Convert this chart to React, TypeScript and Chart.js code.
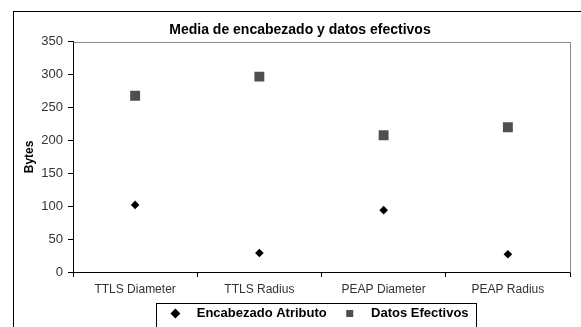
import React, { useEffect, useRef } from 'react';
import { Chart, registerables } from 'chart.js';

Chart.register(...registerables);

const chartTitle = 'Media de encabezado y datos efectivos';
const yAxisTitle = 'Bytes';
const categories = ['TTLS Diameter', 'TTLS Radius', 'PEAP Diameter', 'PEAP Radius'];
const seriesNames = ['Encabezado Atributo', 'Datos Efectivos'];
const encabezadoAtributo = [102, 29, 94, 27];
const datosEfectivos = [268, 297, 208, 220];
const yMin = 0;
const yMax = 350;
const yStep = 50;

const FONT = 'Liberation Sans, Arial, Helvetica, sans-serif';

const framePlugin = {
  id: 'framePlugin',
  afterLayout(chart: any) {
    const lg = chart.legend;
    if (lg) {
      lg.left += 24;
      lg.right += 24;
      lg.top -= 14;
      lg.bottom -= 14;
    }
    const tb = chart.titleBlock;
    if (tb) {
      tb.left += 4;
      tb.right += 4;
    }
  },
  afterDraw(chart: any) {
    const ctx = chart.ctx;
    const ca = chart.chartArea;
    ctx.save();
    // outer frame
    ctx.strokeStyle = '#000';
    ctx.lineWidth = 1;
    ctx.strokeRect(13.5, 11.5, 700, 500);
    // plot area top/right border
    ctx.strokeStyle = '#8a8a8a';
    ctx.beginPath();
    ctx.moveTo(Math.round(ca.left) + 0.5, Math.round(ca.top) + 0.5);
    ctx.lineTo(Math.round(ca.right) + 0.5, Math.round(ca.top) + 0.5);
    ctx.lineTo(Math.round(ca.right) + 0.5, Math.round(ca.bottom) + 0.5);
    ctx.stroke();
    // legend border
    const lg = chart.legend;
    if (lg && lg.legendHitBoxes && lg.legendHitBoxes.length) {
      const hb = lg.legendHitBoxes;
      const first = hb[0];
      const last = hb[hb.length - 1];
      const l = Math.round(first.left - 15) + 0.5;
      const r = Math.round(last.left + last.width + 7) + 0.5;
      const t = Math.round(first.top + first.height / 2 - 11) + 0.5;
      ctx.strokeStyle = '#000';
      ctx.strokeRect(l, t, r - l, 200);
    }
    ctx.restore();
  },
};

export default function App() {
  const ref = useRef<HTMLCanvasElement | null>(null);

  useEffect(() => {
    if (!ref.current) return;
    const chart = new Chart(ref.current, {
      type: 'line',
      data: {
        labels: categories,
        datasets: [
          {
            label: '   ' + seriesNames[0],
            data: encabezadoAtributo,
            showLine: false,
            pointStyle: 'rectRot',
            pointRadius: 4.3,
            pointBackgroundColor: '#000',
            pointBorderColor: '#000',
            borderColor: '#000',
            backgroundColor: '#000',
            pointBorderWidth: 0,
          },
          {
            label: '   ' + seriesNames[1],
            data: datosEfectivos,
            showLine: false,
            pointStyle: 'rect',
            pointRadius: 7,
            pointBackgroundColor: '#4b5054',
            pointBorderColor: '#4b5054',
            borderColor: '#4b5054',
            backgroundColor: '#4b5054',
            pointBorderWidth: 0,
          },
        ],
      },
      options: {
        animation: false,
        responsive: false,
        devicePixelRatio: 1,
        layout: { padding: { left: 22, right: 11, top: 19, bottom: 6 } },
        plugins: {
          title: {
            display: true,
            text: chartTitle,
            color: '#000',
            font: { family: FONT, size: 14, weight: 'bold' },
            padding: { top: 3, bottom: 3 },
          },
          legend: {
            display: true,
            position: 'bottom',
            labels: {
              usePointStyle: true,
              boxWidth: 8,
              boxHeight: 7,
              padding: 19,
              color: '#000',
              font: { family: FONT, size: 13, weight: 'bold' },
            },
          },
          tooltip: { enabled: false },
        },
        scales: {
          x: {
            type: 'category',
            offset: true,
            grid: { offset: true, drawOnChartArea: false, tickLength: 5, color: '#000' },
            border: { color: '#000' },
            ticks: { padding: 5, color: '#333', font: { family: FONT, size: 12 }, maxRotation: 0 },
            afterFit: (s: any) => {
              s.height = 30;
            },
          },
          y: {
            min: yMin,
            max: yMax,
            ticks: { stepSize: yStep, padding: 5, color: '#333', font: { family: FONT, size: 13 } },
            grid: { drawOnChartArea: false, tickLength: 5, color: '#000' },
            border: { color: '#000' },
            title: {
              display: true,
              text: yAxisTitle,
              color: '#000',
              font: { family: FONT, size: 12, weight: 'bold' },
              padding: 0,
            },
            afterFit: (s: any) => {
              s.width = 51;
            },
          },
        },
      },
      plugins: [framePlugin],
    } as any);
    return () => chart.destroy();
  }, []);

  return (
    <div style={{ position: 'absolute', left: 0, top: 0, width: 581, height: 327, overflow: 'hidden', background: '#fff' }}>
      <canvas ref={ref} width={581} height={350} style={{ display: 'block' }} />
    </div>
  );
}
